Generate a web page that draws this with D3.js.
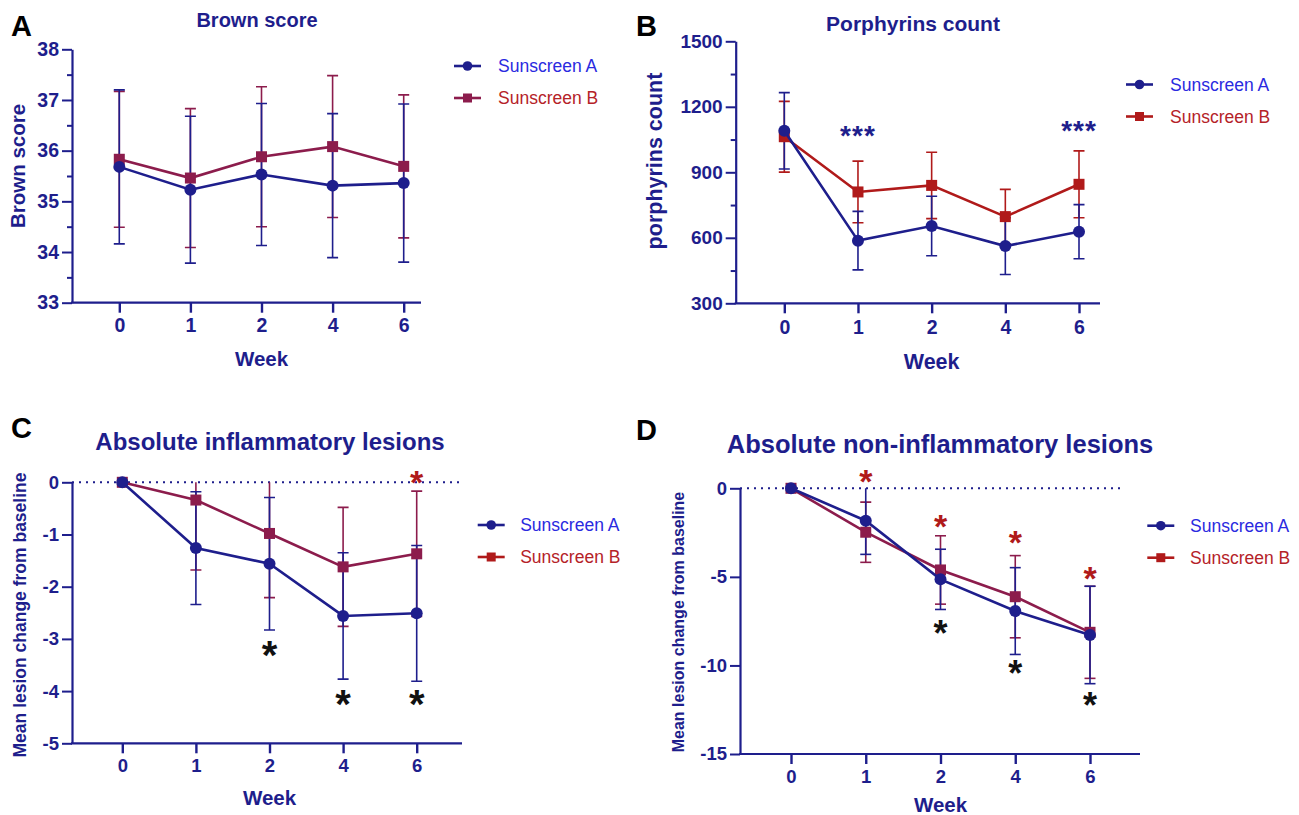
<!DOCTYPE html>
<html>
<head>
<meta charset="utf-8">
<script src="https://cdn.jsdelivr.net/npm/d3@7"></script>
<style>
	body { margin: 0; background: #fff; }
	text { font-family: 'Liberation Sans', Arial, sans-serif; }
</style>
</head>
<body>
<svg id="fig" width="1299" height="815"></svg>
<script>
// Data (mean and SD per week)

const weeks = ['0', '1', '2', '4', '6']
const seriesNames = ['Sunscreen A', 'Sunscreen B']

// A - Brown score
const brownA = [35.68, 35.23, 35.53, 35.31, 35.36]
const brownA_sd = [1.52, 1.45, 1.4, 1.42, 1.56]
const brownB = [35.83, 35.46, 35.88, 36.08, 35.69]
const brownB_sd = [1.34, 1.37, 1.38, 1.4, 1.41]
const brownTicks = [33, 34, 35, 36, 37, 38]
const brownMinor = [33.5, 34.5, 35.5, 36.5, 37.5]

// B - Porphyrins count
const porphA = [1090, 587, 654, 562, 628]
const porphA_sd = [175, 134, 136, 130, 124]
const porphB = [1063, 810, 840, 697, 845]
const porphB_sd = [162, 141, 152, 125, 153]
const porphTicks = [300, 600, 900, 1200, 1500]
const porphMinor = [450, 750, 1050, 1350]
const porphStars = [['1', 1100], ['6', 1122]]

// C - Absolute inflammatory lesions (change from baseline)
const inflA = [0, -1.26, -1.56, -2.56, -2.51]
const inflA_sd = [0, 1.08, 1.27, 1.21, 1.3]
const inflB = [0, -0.34, -0.98, -1.62, -1.37]
const inflB_sd = [0, 1.34, 1.23, 1.14, 1.2]
const inflTicks = [-5, -4, -3, -2, -1, 0]
const inflStarsA = [['2', -3.14], ['4', -4.08], ['6', -4.08]]
const inflStarsB = [['6', 0.16]]

// D - Absolute non-inflammatory lesions
const noninflA = [0, -1.83, -5.14, -6.93, -8.28]
const noninflA_sd = [0, 1.9, 1.7, 2.45, 2.75]
const noninflB = [0, -2.48, -4.61, -6.12, -8.13]
const noninflB_sd = [0, 1.7, 1.93, 2.32, 2.6]
const noninflTicks = [-15, -10, -5, 0]
const noninflStarsA = [['2', -7.7], ['4', -10.0], ['6', -11.8]]
const noninflStarsB = [['1', 0.85], ['2', -1.7], ['4', -2.6], ['6', -4.6]]

const navy = '#1e1e8c'
const maroon = '#8c1c4c'
const red = '#b01a1a'
const legendBlue = '#2a2ae0'
const legendRed = '#b52228'

const svg = d3.select('#fig')

function drawPanel(cfg) {
	const g = svg.append('g')

	const x = d3.scalePoint().domain(weeks).range([cfg.xFirst, cfg.xLast])
	const y = d3.scaleLinear().domain(cfg.domain).range([cfg.yBottom, cfg.yTop])

	// panel letter + title
	g.append('text')
		.attr('x', cfg.letterX).attr('y', cfg.letterY)
		.attr('font-size', 29).attr('font-weight', 'bold').attr('fill', '#000')
		.text(cfg.letter)
	g.append('text')
		.attr('x', cfg.titleX).attr('y', cfg.titleY)
		.attr('text-anchor', 'middle')
		.attr('font-size', cfg.titleSize).attr('font-weight', 'bold').attr('fill', navy)
		.text(cfg.title)

	// zero reference line
	if (cfg.zeroEnd) {
		g.append('line')
			.attr('x1', cfg.axisX).attr('x2', cfg.zeroEnd)
			.attr('y1', y(0)).attr('y2', y(0))
			.attr('stroke', navy).attr('stroke-width', 2)
			.attr('stroke-dasharray', '2,5')
	}

	// y axis
	const yAxis = g.append('g')
		.attr('transform', `translate(${cfg.axisX},0)`)
		.call(d3.axisLeft(y).tickValues(cfg.ticks).tickSize(10).tickSizeOuter(0)
			.tickPadding(3).tickFormat((d) => String(d)))
	if (cfg.minor) {
		g.append('g')
			.attr('transform', `translate(${cfg.axisX},0)`)
			.call(d3.axisLeft(y).tickValues(cfg.minor).tickSize(5).tickFormat(''))
			.call((s) => s.select('.domain').remove())
			.selectAll('line').attr('stroke', navy).attr('stroke-width', 2)
	}
	yAxis.select('.domain').attr('stroke', navy).attr('stroke-width', 2.2)
	yAxis.selectAll('.tick line').attr('stroke', navy).attr('stroke-width', 2)
	yAxis.selectAll('.tick text')
		.attr('fill', navy).attr('font-size', cfg.yTickSize).attr('font-weight', 'bold')
		.attr('font-family', 'Liberation Sans, Arial, sans-serif')

	// x axis
	const xAxis = g.append('g')
		.attr('transform', `translate(0,${cfg.yBottom})`)
		.call(d3.axisBottom(x).tickSize(10).tickSizeOuter(0).tickPadding(cfg.xTickPad))
	xAxis.select('.domain').remove()
	xAxis.append('line')
		.attr('x1', cfg.axisX - 1).attr('x2', cfg.xEnd)
		.attr('stroke', navy).attr('stroke-width', 2.2)
	xAxis.selectAll('.tick line').attr('stroke', navy).attr('stroke-width', 2.4)
	xAxis.selectAll('.tick text')
		.attr('fill', navy).attr('font-size', cfg.xTickSize).attr('font-weight', 'bold')
		.attr('font-family', 'Liberation Sans, Arial, sans-serif')

	// axis titles
	g.append('text')
		.attr('x', (cfg.xFirst + cfg.xLast) / 2).attr('y', cfg.weekY)
		.attr('text-anchor', 'middle')
		.attr('font-size', cfg.weekSize).attr('font-weight', 'bold').attr('fill', navy)
		.text('Week')
	g.append('text')
		.attr('transform', `translate(${cfg.ylabelX},${cfg.ylabelY}) rotate(-90)`)
		.attr('text-anchor', 'middle')
		.attr('font-size', cfg.ylabelSize).attr('font-weight', 'bold').attr('fill', navy)
		.text(cfg.ylabel)

	// clip error bars to the plotting range
	const clipId = 'clip' + cfg.letter
	svg.append('clipPath').attr('id', clipId)
		.append('rect')
		.attr('x', cfg.axisX).attr('y', cfg.yTop)
		.attr('width', cfg.xEnd - cfg.axisX).attr('height', cfg.yBottom - cfg.yTop)

	const series = [
		{ mean: cfg.meanB, sd: cfg.sdB, color: cfg.colorB, shape: 'square' },
		{ mean: cfg.meanA, sd: cfg.sdA, color: navy, shape: 'circle' },
	]

	const bars = g.append('g').attr('clip-path', `url(#${clipId})`)
	series.forEach((s) => {
		const pts = weeks.map((w, i) => ({ w, m: s.mean[i], sd: s.sd[i] })).filter((d) => d.sd > 0)
		const eb = bars.selectAll(null).data(pts).enter().append('g')
			.attr('stroke', s.color).attr('stroke-width', 1.6)
		eb.append('line')
			.attr('x1', (d) => x(d.w)).attr('x2', (d) => x(d.w))
			.attr('y1', (d) => y(d.m + d.sd)).attr('y2', (d) => y(d.m - d.sd))
		eb.append('line')
			.attr('x1', (d) => x(d.w) - 5.5).attr('x2', (d) => x(d.w) + 5.5)
			.attr('y1', (d) => y(d.m + d.sd)).attr('y2', (d) => y(d.m + d.sd))
		eb.append('line')
			.attr('x1', (d) => x(d.w) - 5.5).attr('x2', (d) => x(d.w) + 5.5)
			.attr('y1', (d) => y(d.m - d.sd)).attr('y2', (d) => y(d.m - d.sd))
	})

	const line = d3.line().x((d, i) => x(weeks[i])).y((d) => y(d))
	series.forEach((s) => {
		g.append('path')
			.datum(s.mean)
			.attr('fill', 'none').attr('stroke', s.color).attr('stroke-width', 2.6)
			.attr('d', line)
		if (s.shape === 'circle') {
			g.selectAll(null).data(s.mean).enter().append('circle')
				.attr('cx', (d, i) => x(weeks[i])).attr('cy', (d) => y(d))
				.attr('r', 6).attr('fill', s.color)
		} else {
			g.selectAll(null).data(s.mean).enter().append('rect')
				.attr('x', (d, i) => x(weeks[i]) - 5.5).attr('y', (d) => y(d) - 5.5)
				.attr('width', 11).attr('height', 11).attr('fill', s.color)
		}
	})

	// significance marks
	;(cfg.stars || []).forEach((st) => {
		g.selectAll(null).data(st.data).enter().append('text')
			.attr('x', (d) => x(d[0])).attr('y', (d) => y(d[1]) + st.size * 0.58)
			.attr('text-anchor', 'middle')
			.attr('font-size', st.size).attr('font-weight', 'bold')
			.attr('letter-spacing', st.spacing || 0)
			.attr('fill', st.color)
			.text(st.label)
	})

	// legend
	const lg = g.append('g').attr('transform', `translate(${cfg.legendX},${cfg.legendY})`)
	seriesNames.forEach((name, i) => {
		const row = lg.append('g').attr('transform', `translate(0,${i * 32})`)
		const c = i === 0 ? navy : cfg.legendColorB
		row.append('line').attr('x1', 0).attr('x2', 27)
			.attr('stroke', c).attr('stroke-width', 2.6)
		if (i === 0) row.append('circle').attr('cx', 13.5).attr('r', 4.8).attr('fill', c)
		else row.append('rect').attr('x', 9).attr('y', -4.5).attr('width', 9).attr('height', 9).attr('fill', c)
		row.append('text')
			.attr('x', cfg.legendTextDx).attr('y', 6)
			.attr('font-size', 17.5)
			.attr('fill', i === 0 ? legendBlue : legendRed)
			.text(name)
	})
}

drawPanel({
	letter: 'A', letterX: 11, letterY: 36,
	title: 'Brown score', titleX: 257, titleY: 26.5, titleSize: 20,
	axisX: 72, yTop: 49.3, yBottom: 302.7, xFirst: 119.3, xLast: 403.7, xEnd: 421,
	domain: [33, 38], ticks: brownTicks, minor: brownMinor,
	yTickSize: 19.5, xTickSize: 19.5, xTickPad: 5,
	ylabel: 'Brown score', ylabelX: 25, ylabelY: 166, ylabelSize: 20.5,
	weekY: 366, weekSize: 20.5,
	meanA: brownA, sdA: brownA_sd, meanB: brownB, sdB: brownB_sd, colorB: maroon,
	legendX: 454, legendY: 66, legendTextDx: 44, legendColorB: maroon,
})

drawPanel({
	letter: 'B', letterX: 636, letterY: 36,
	title: 'Porphyrins count', titleX: 913, titleY: 31, titleSize: 21,
	axisX: 735.7, yTop: 41.3, yBottom: 303.3, xFirst: 784.3, xLast: 1079, xEnd: 1100,
	domain: [300, 1500], ticks: porphTicks, minor: porphMinor,
	yTickSize: 19, xTickSize: 19.5, xTickPad: 7,
	ylabel: 'porphyrins count', ylabelX: 662, ylabelY: 161, ylabelSize: 21.5,
	weekY: 369, weekSize: 21.5,
	meanA: porphA, sdA: porphA_sd, meanB: porphB, sdB: porphB_sd, colorB: red,
	stars: [{ data: porphStars, label: '***', size: 28, spacing: 1, color: navy }],
	legendX: 1126, legendY: 84.5, legendTextDx: 44, legendColorB: red,
})

drawPanel({
	letter: 'C', letterX: 11, letterY: 438,
	title: 'Absolute inflammatory lesions', titleX: 270, titleY: 449.5, titleSize: 24,
	axisX: 72, yTop: 482.3, yBottom: 743.3, xFirst: 122.3, xLast: 416.7, xEnd: 462,
	domain: [-5, 0], ticks: inflTicks, zeroEnd: 462,
	yTickSize: 18.5, xTickSize: 18.5, xTickPad: 6,
	ylabel: 'Mean lesion change from baseline', ylabelX: 26, ylabelY: 615, ylabelSize: 17.5,
	weekY: 804.5, weekSize: 20.5,
	meanA: inflA, sdA: inflA_sd, meanB: inflB, sdB: inflB_sd, colorB: maroon,
	stars: [
		{ data: inflStarsA, label: '*', size: 40, color: '#111' },
		{ data: inflStarsB, label: '*', size: 34, color: red },
	],
	legendX: 477.7, legendY: 525, legendTextDx: 42.5, legendColorB: red,
})

drawPanel({
	letter: 'D', letterX: 636, letterY: 440,
	title: 'Absolute non-inflammatory lesions', titleX: 940, titleY: 452.5, titleSize: 25.5,
	axisX: 740, yTop: 488.3, yBottom: 754, xFirst: 791, xLast: 1090, xEnd: 1140,
	domain: [-15, 0], ticks: noninflTicks, zeroEnd: 1125,
	yTickSize: 18.5, xTickSize: 18.5, xTickPad: 6,
	ylabel: 'Mean lesion change from baseline', ylabelX: 684, ylabelY: 622, ylabelSize: 16,
	weekY: 812, weekSize: 20.5,
	meanA: noninflA, sdA: noninflA_sd, meanB: noninflB, sdB: noninflB_sd, colorB: maroon,
	stars: [
		{ data: noninflStarsA, label: '*', size: 36, color: '#111' },
		{ data: noninflStarsB, label: '*', size: 34, color: red },
	],
	legendX: 1147.3, legendY: 525.7, legendTextDx: 42.7, legendColorB: red,
})
</script>
</body>
</html>
